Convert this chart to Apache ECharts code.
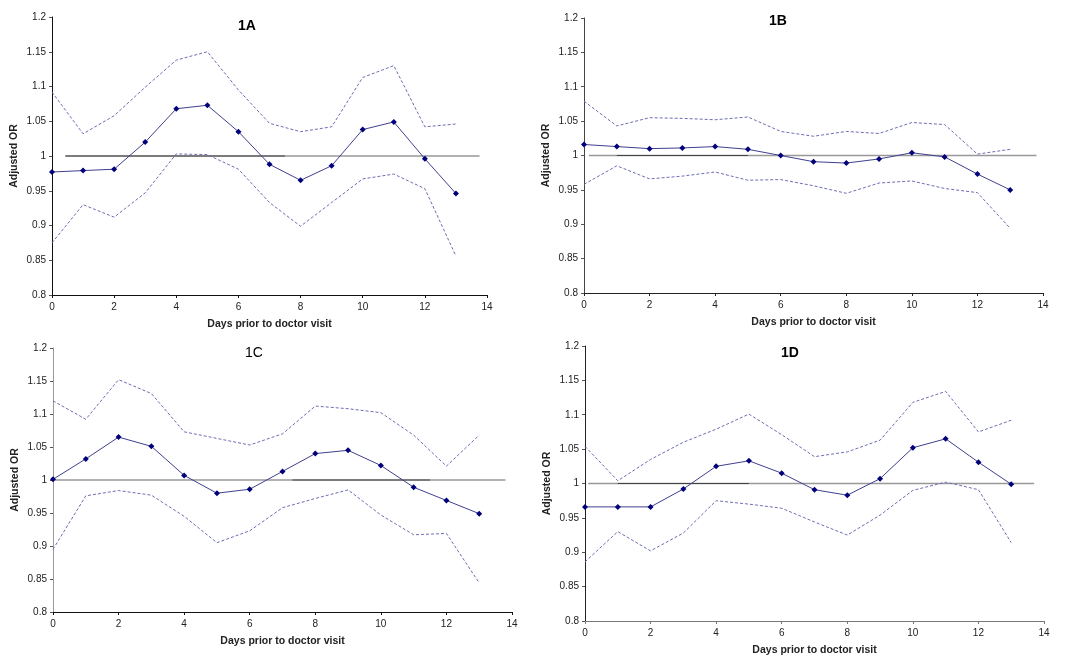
<!DOCTYPE html>
<html>
<head>
<meta charset="utf-8">
<script src="https://cdn.jsdelivr.net/npm/echarts@6/dist/echarts.min.js"></script>
<style>
html,body{margin:0;padding:0;background:#fff;}
#chart{width:1070px;height:670px;}
</style>
</head>
<body>
<div id="chart"></div>
<script>
// Days prior to doctor visit
const days = [0,1,2,3,4,5,6,7,8,9,10,11,12,13];
const panelTitles = ['1A','1B','1C','1D'];
const xTicks = [0,2,4,6,8,10,12,14];
const yTicks = [0.8,0.85,0.9,0.95,1,1.05,1.1,1.15,1.2];

// Panel 1A
const orA    = [0.977,0.979,0.981,1.020,1.068,1.073,1.035,0.988,0.965,0.986,1.038,1.049,0.996,0.946];
const upperA = [1.092,1.032,1.058,1.099,1.138,1.150,1.095,1.047,1.035,1.042,1.113,1.130,1.042,1.046];
const lowerA = [0.875,0.930,0.912,0.947,1.003,1.002,0.981,0.933,0.899,0.933,0.967,0.974,0.953,0.856];
// Panel 1B
const orB    = [1.016,1.013,1.010,1.011,1.013,1.009,1.000,0.991,0.989,0.995,1.004,0.998,0.973,0.950];
const upperB = [1.079,1.043,1.055,1.054,1.052,1.056,1.035,1.028,1.035,1.032,1.048,1.045,1.002,1.009];
const lowerB = [0.958,0.985,0.966,0.970,0.976,0.964,0.965,0.956,0.945,0.960,0.963,0.952,0.946,0.894];
// Panel 1C
const orC    = [1.001,1.032,1.065,1.051,1.007,0.980,0.986,1.013,1.040,1.045,1.022,0.989,0.969,0.949];
const upperC = [1.120,1.092,1.152,1.131,1.073,1.063,1.053,1.070,1.112,1.108,1.102,1.068,1.021,1.068];
const lowerC = [0.895,0.976,0.984,0.977,0.945,0.905,0.923,0.958,0.972,0.985,0.947,0.917,0.919,0.844];
// Panel 1D
const orD    = [0.966,0.966,0.966,0.992,1.025,1.033,1.015,0.991,0.983,1.007,1.052,1.065,1.031,0.999];
const upperD = [1.054,1.004,1.035,1.060,1.079,1.101,1.071,1.039,1.046,1.063,1.118,1.134,1.075,1.092];
const lowerD = [0.886,0.930,0.902,0.928,0.975,0.970,0.964,0.944,0.925,0.954,0.990,1.002,0.991,0.914];

// Reference line (OR = 1) extents in days, and darker rendered segments
const refLevel = 1;
const refSpan = [[0.43,13.76],[0.15,13.8],[0,13.8],[0.1,13.7]];
const refDark = [[0.43,7.5],[1,5],[7.3,11.5],[1,5]];

const ors = [orA,orB,orC,orD];
const uppers = [upperA,upperB,upperC,upperD];
const lowers = [lowerA,lowerB,lowerC,lowerD];

const grids = [
  {left:52, top:17, width:435, height:278},
  {left:584, top:18, width:459, height:275},
  {left:53, top:348, width:459, height:264},
  {left:585, top:346, width:459, height:275}
];
const titlePos = [[249,27],[780,22],[256,354],[792,354]];
const titleWeight = ['bold','bold','normal','bold'];
const xAxisCol = ['#111','#222','#111','#777'];
const yAxisCol = ['#111','#444','#999','#222'];

const font = 'Liberation Sans, Arial, sans-serif';

const chart = echarts.init(document.getElementById('chart'), null, {renderer:'canvas'});
const xAxes = [], yAxes = [], series = [], graphics = [];
const pair = (arr) => days.map((d,i)=>[d,arr[i]]);

grids.forEach((g,i)=>{
  xAxes.push({
    type:'value', gridIndex:i, min:0, max:14, interval:2,
    name:'Days prior to doctor visit', nameLocation:'middle', nameGap:24,
    nameTextStyle:{fontFamily:font,fontSize:10.5,fontWeight:'bold',color:'#222'},
    axisLine:{show:true,onZero:false,lineStyle:{color:xAxisCol[i],width:1}},
    axisTick:{show:true,length:3,inside:false,lineStyle:{color:xAxisCol[i]}},
    axisLabel:{fontFamily:font,fontSize:10,color:'#222',margin:7},
    splitLine:{show:false}
  });
  yAxes.push({
    type:'value', gridIndex:i, min:0.8, max:1.2, interval:0.05,
    name:'Adjusted OR', nameLocation:'middle', nameGap:32, nameRotate:90,
    nameTextStyle:{fontFamily:font,fontSize:10.5,fontWeight:'bold',color:'#222'},
    axisLine:{show:true,onZero:false,lineStyle:{color:yAxisCol[i],width:1}},
    axisTick:{show:true,length:3,inside:false,lineStyle:{color:'#555'}},
    axisLabel:{fontFamily:font,fontSize:10,color:'#222',margin:6,
      formatter:(v)=>String(parseFloat(v.toFixed(2)))},
    splitLine:{show:false}
  });
  series.push({
    type:'line', xAxisIndex:i, yAxisIndex:i, silent:true, symbol:'none',
    data:[[refSpan[i][0],refLevel],[refSpan[i][1],refLevel]],
    lineStyle:{color:'#999',width:1.5}, z:1
  });
  series.push({
    type:'line', xAxisIndex:i, yAxisIndex:i, silent:true, symbol:'none',
    data:[[refDark[i][0],refLevel],[refDark[i][1],refLevel]],
    lineStyle:{color:'#444',width:1}, z:2
  });
  series.push({
    type:'line', xAxisIndex:i, yAxisIndex:i, silent:true, symbol:'none',
    data:pair(uppers[i]),
    lineStyle:{color:'#6d6db5',width:1,type:[3,2]}, z:3
  });
  series.push({
    type:'line', xAxisIndex:i, yAxisIndex:i, silent:true, symbol:'none',
    data:pair(lowers[i]),
    lineStyle:{color:'#6d6db5',width:1,type:[3,2]}, z:3
  });
  series.push({
    type:'line', xAxisIndex:i, yAxisIndex:i, silent:true,
    symbol:'diamond', symbolSize:6, showAllSymbol:true,
    itemStyle:{color:'#00007a'},
    data:pair(ors[i]),
    lineStyle:{color:'#3f3f8f',width:1}, z:4
  });
  graphics.push({
    type:'text', left:titlePos[i][0]-11, top:titlePos[i][1]-8,
    style:{text:panelTitles[i], font:titleWeight[i]+' 14px '+font, fill:'#000'}
  });
});

chart.setOption({
  animation:false,
  backgroundColor:'#fff',
  grid:grids,
  xAxis:xAxes,
  yAxis:yAxes,
  series:series,
  graphic:graphics
});
</script>
</body>
</html>
